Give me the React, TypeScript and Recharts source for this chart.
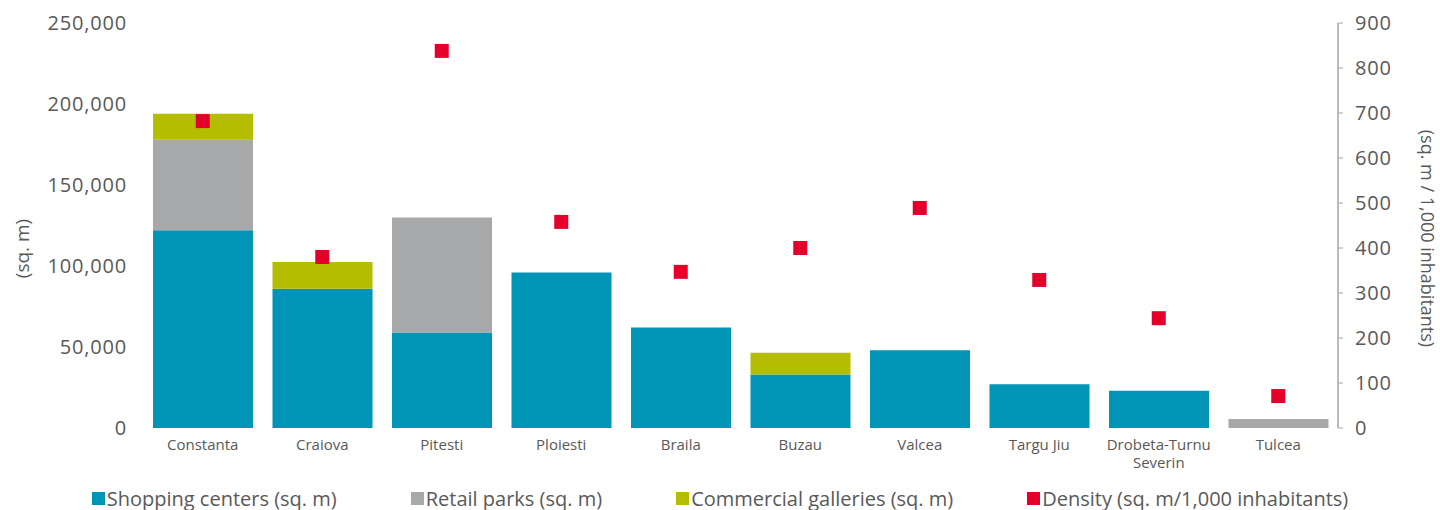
import React from "react";
import {
  ComposedChart,
  Bar,
  Line,
  XAxis,
  YAxis,
  Legend,
  Text,
} from "recharts";

// values
const categories = [
  "Constanta",
  "Craiova",
  "Pitesti",
  "Ploiesti",
  "Braila",
  "Buzau",
  "Valcea",
  "Targu Jiu",
  "Drobeta-Turnu Severin",
  "Tulcea",
];
const shoppingCenters = [122000, 86000, 59000, 96000, 62000, 33000, 48000, 27000, 23000, 0];
const retailParks = [56000, 0, 71000, 0, 0, 0, 0, 0, 0, 5500];
const commercialGalleries = [16000, 16500, 0, 0, 0, 13500, 0, 0, 0, 0];
const density = [682, 380, 838, 458, 347, 400, 489, 329, 244, 71];

const areaTicks = [0, 50000, 100000, 150000, 200000, 250000];
const densityTicks = [0, 100, 200, 300, 400, 500, 600, 700, 800, 900];

const TEAL = "#0095b6";
const GREY = "#a7a8aa";
const LIME = "#b5bd00";
const RED = "#e4002b";
const TEXT = "#595959";
const FONT = "'Open Sans', sans-serif";

const data = categories.map((name, i) => ({
  name,
  shopping: shoppingCenters[i],
  retail: retailParks[i],
  galleries: commercialGalleries[i],
  density: density[i],
}));

const legendItems = [
  { label: "Shopping centers (sq. m)", color: TEAL },
  { label: "Retail parks (sq. m)", color: GREY },
  { label: "Commercial galleries (sq. m)", color: LIME },
  { label: "Density (sq. m/1,000 inhabitants)", color: RED },
];

const fmt = (v: number) => v.toLocaleString("en-US");

const CategoryTick = (props: any) => {
  const { x, y, payload } = props;
  return (
    <Text
      x={x}
      y={y}
      width={118}
      textAnchor="middle"
      verticalAnchor="start"
      lineHeight={18}
      fontSize={15}
      fontFamily={FONT}
      fill={TEXT}
    >
      {payload.value}
    </Text>
  );
};

const DensityMarker = (props: any) => {
  const { cx, cy } = props;
  if (cx == null || cy == null) return null;
  return <rect x={cx - 7} y={cy - 7} width={14} height={14} fill={RED} />;
};

const ChartLegend = () => (
  <div
    style={{
      display: "flex",
      justifyContent: "center",
      alignItems: "center",
      gap: 74,
      height: 24,
      fontFamily: FONT,
      fontSize: 20,
      color: TEXT,
    }}
  >
    {legendItems.map((it) => (
      <div key={it.label} style={{ display: "flex", alignItems: "center" }}>
        <span
          style={{
            display: "inline-block",
            width: 13,
            height: 13,
            background: it.color,
            marginRight: 2,
          }}
        />
        <span>{it.label}</span>
      </div>
    ))}
  </div>
);

export default function App() {
  return (
    <div style={{ position: "absolute", top: 0, left: 0 }}>
      <ComposedChart
        width={1440}
        height={510}
        data={data}
        margin={{ top: 23, right: 0, bottom: 0, left: 0 }}
        barCategoryGap={10}
      >
        <XAxis
          dataKey="name"
          axisLine={false}
          tickLine={false}
          tickSize={0}
          tickMargin={11}
          height={58}
          interval={0}
          tick={<CategoryTick />}
        />
        <YAxis
          yAxisId="left"
          orientation="left"
          width={143}
          domain={[0, 250000]}
          ticks={areaTicks}
          tickFormatter={fmt}
          axisLine={false}
          tickLine={false}
          tickSize={0}
          tickMargin={16}
          tick={{ fill: TEXT, fontSize: 20, fontFamily: FONT, letterSpacing: 0.8 }}
          label={{
            content: (p: any) => {
              const vb = p.viewBox || { x: 0, y: 23, width: 143, height: 405 };
              const x = vb.x + 22;
              const y = vb.y + vb.height / 2 + 23;
              return (
                <text
                  x={x}
                  y={y}
                  transform={`rotate(-90 ${x} ${y})`}
                  textAnchor="middle"
                  dominantBaseline="central"
                  fill={TEXT}
                  fontSize={19}
                  fontFamily={FONT}
                >
                  (sq. m)
                </text>
              );
            },
          }}
        />
        <YAxis
          yAxisId="right"
          orientation="right"
          width={102}
          domain={[0, 900]}
          ticks={densityTicks}
          axisLine={{ stroke: "#a6a6a6", strokeWidth: 1.5 }}
          tickLine={{ stroke: "#a6a6a6" }}
          tickSize={5}
          tickMargin={12}
          tick={{ fill: TEXT, fontSize: 20, fontFamily: FONT, letterSpacing: 0.8, textAnchor: "start" }}
          label={{
            content: (p: any) => {
              const vb = p.viewBox || { x: 1338, y: 23, width: 102, height: 405 };
              const x = vb.x + 90;
              const y = vb.y + vb.height / 2 + 13;
              return (
                <text
                  x={x}
                  y={y}
                  transform={`rotate(90 ${x} ${y})`}
                  textAnchor="middle"
                  dominantBaseline="central"
                  fill={TEXT}
                  fontSize={18}
                  fontFamily={FONT}
                >
                  (sq. m / 1,000 inhabitants)
                </text>
              );
            },
          }}
        />
        <Legend verticalAlign="bottom" height={24} content={<ChartLegend />} />
        <Bar yAxisId="left" dataKey="shopping" stackId="a" fill={TEAL} isAnimationActive={false} />
        <Bar yAxisId="left" dataKey="retail" stackId="a" fill={GREY} isAnimationActive={false} />
        <Bar yAxisId="left" dataKey="galleries" stackId="a" fill={LIME} isAnimationActive={false} />
        <Line
          yAxisId="right"
          dataKey="density"
          stroke="none"
          strokeWidth={0}
          dot={<DensityMarker />}
          activeDot={false}
          isAnimationActive={false}
        />
      </ComposedChart>
    </div>
  );
}
